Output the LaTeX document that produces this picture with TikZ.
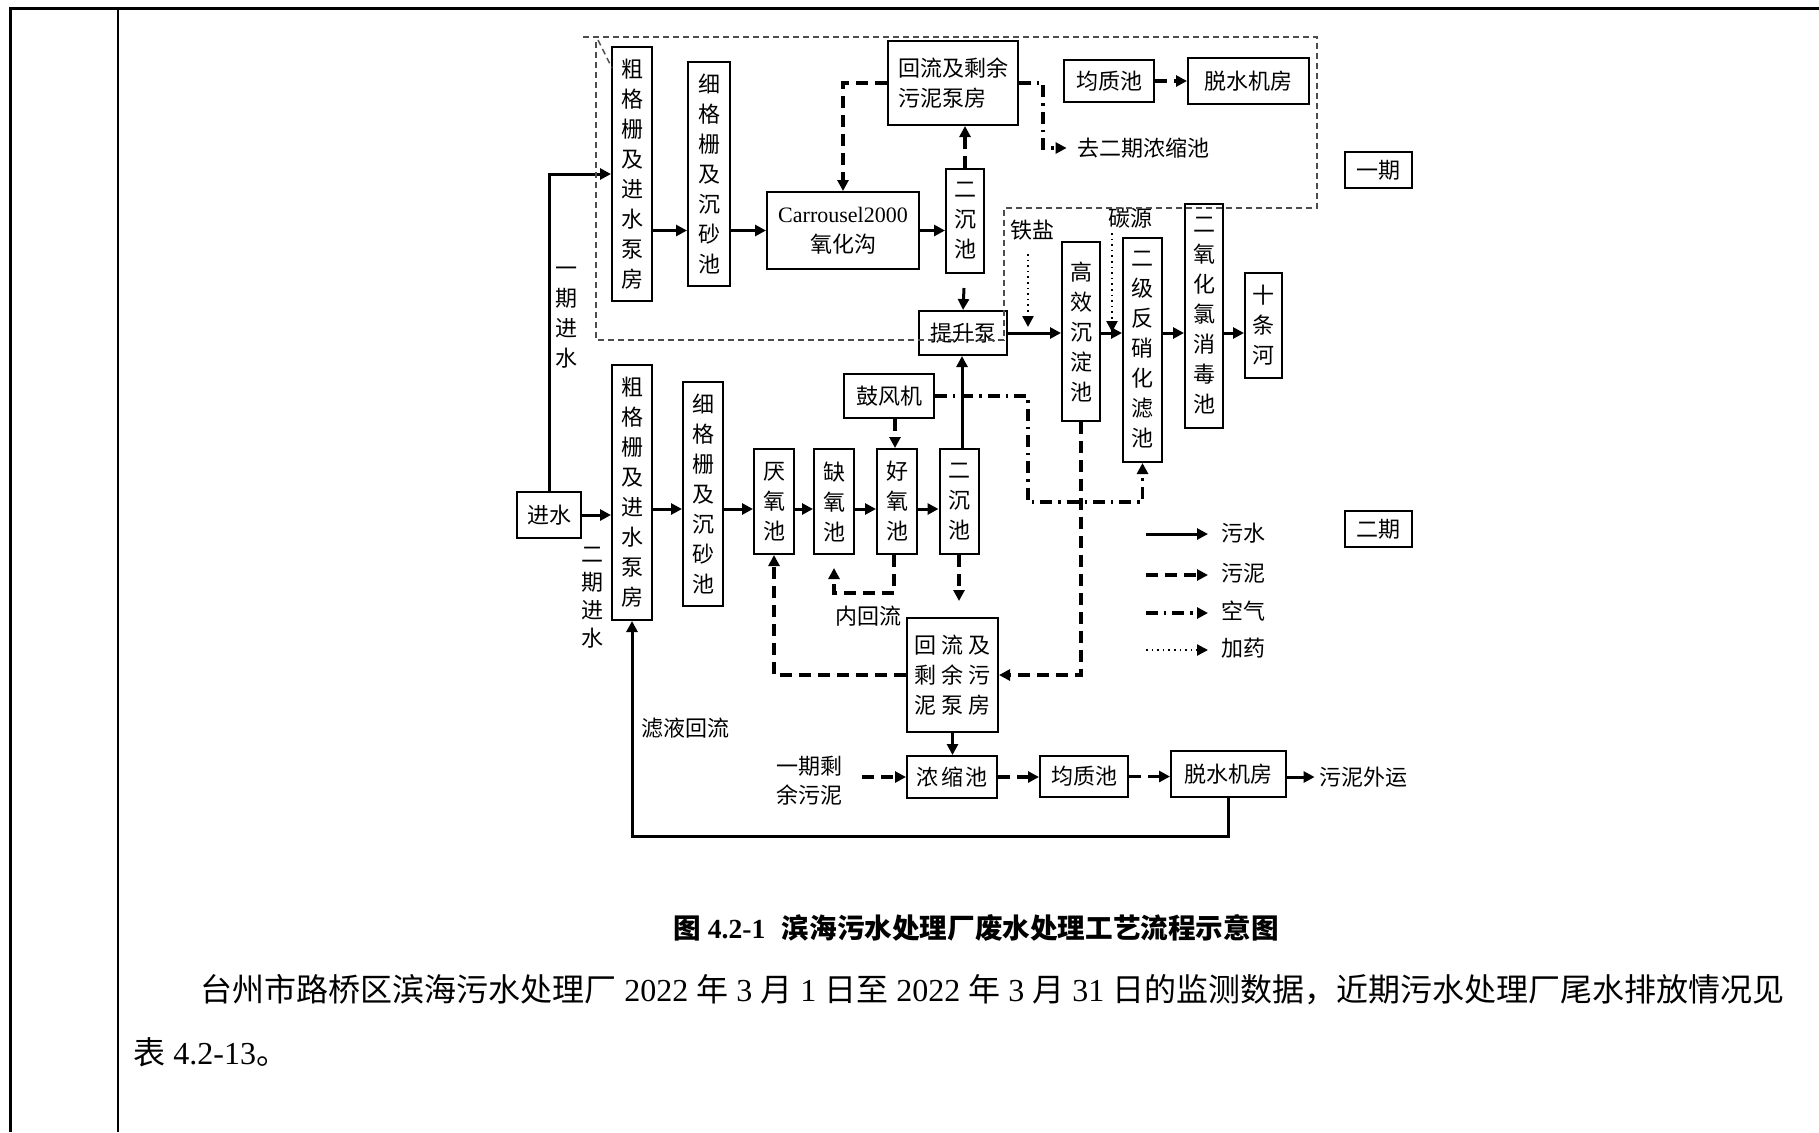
\documentclass[tikz,border=0pt]{standalone}
\usepackage{fontspec}
\setmainfont{Liberation Serif}
\newfontfamily\cjk{Noto Sans CJK SC}
\usetikzlibrary{arrows.meta,calc}
\begin{document}
\begin{tikzpicture}[x=0.5pt,y=-0.5pt,
  box/.style={draw,line width=1pt,inner sep=0pt,font=\cjk\fontsize{11}{15}\selectfont,align=center},
  sz/.style 2 args={minimum width=#1*0.5pt,minimum height=#2*0.5pt},
  lbl/.style={inner sep=0pt,font=\cjk\fontsize{11}{15}\selectfont,align=center},
  tip/.style={-{Triangle[length=5.5pt,width=5.5pt]}},
  water/.style={line width=1.5pt,tip},
  sludge/.style={line width=1.6pt,dash pattern=on 6pt off 3.5pt,tip},
  air/.style={line width=1.6pt,dash pattern=on 6pt off 3pt on 1.2pt off 3pt,tip},
  dose/.style={line width=1.2pt,dash pattern=on 0.8pt off 2pt,tip},
  outl/.style={line width=0.7pt,black!70,dash pattern=on 3pt off 2pt},
  rule/.style={line width=1.2pt},
]
\useasboundingbox (0,0) rectangle (1819,1132);
% table rules
\draw[rule] (1819,8.5) -- (10.5,8.5) -- (10.5,1132);
\draw[rule] (118,8.5) -- (118,1132);

% phase 1 nodes
\node[box,sz={40}{254}] (c1) at (632,174) {粗\\格\\栅\\及\\进\\水\\泵\\房};
\node[box,sz={42}{224}] (f1) at (709,174) {细\\格\\栅\\及\\沉\\砂\\池};
\node[box,sz={152}{77}] (car) at (843,230.5) {{\rmfamily Carrousel2000}\\氧化沟};
\node[box,sz={38}{104}] (s1) at (965,221) {二\\沉\\池};
\node[box,sz={130}{84},align=left] (r1) at (953,83) {回流及剩余\\污泥泵房};
\node[box,sz={90}{42}] (j1) at (1109,81) {均质池};
\node[box,sz={121}{46}] (t1) at (1248.5,81) {脱水机房};
\node[box,sz={67}{36}] (p1) at (1378.5,170) {一期};
\node[lbl] (qe) at (1143,148) {去二期浓缩池};

% phase 2 nodes
\node[box,sz={64}{46}] (inw) at (549,515) {进水};
\node[box,sz={40}{255}] (c2) at (632,492.5) {粗\\格\\栅\\及\\进\\水\\泵\\房};
\node[box,sz={40}{224}] (f2) at (703,494) {细\\格\\栅\\及\\沉\\砂\\池};
\node[box,sz={40}{105}] (a2) at (774,501.5) {厌\\氧\\池};
\node[box,sz={40}{105}] (q2) at (834,501.5) {缺\\氧\\池};
\node[box,sz={40}{105}] (h2) at (897,501.5) {好\\氧\\池};
\node[box,sz={39}{105}] (s2) at (959,501.5) {二\\沉\\池};
\node[box,sz={90}{44}] (bl) at (889,396) {鼓风机};
\node[box,sz={88}{44}] (lift) at (963,333) {提升泵};
\node[box,sz={38}{179}] (gx) at (1081,331.5) {高\\效\\沉\\淀\\池};
\node[box,sz={39}{224}] (ej) at (1142.5,350) {二\\级\\反\\硝\\化\\滤\\池};
\node[box,sz={38}{224}] (cl) at (1204,316) {二\\氧\\化\\氯\\消\\毒\\池};
\node[box,sz={37}{105}] (rv) at (1263.5,325.5) {十\\条\\河};
\node[box,sz={91}{114}] (r2) at (952.5,675) {回\hspace{2.5pt}流\hspace{2.5pt}及\\剩\hspace{2.5pt}余\hspace{2.5pt}污\\泥\hspace{2.5pt}泵\hspace{2.5pt}房};
\node[box,sz={90}{42}] (n2) at (952,777) {浓\hspace{1.5pt}缩\hspace{1.5pt}池};
\node[box,sz={88}{41}] (j2) at (1084,776.5) {均质池};
\node[box,sz={115}{46}] (t2) at (1228.5,774) {脱水机房};
\node[box,sz={67}{36}] (p2) at (1378.5,529) {二期};

% labels
\node[lbl] (l1) at (566,318) {一\\期\\进\\水};
\node[lbl,font=\cjk\fontsize{11}{14}\selectfont] (l2) at (592,598) {二\\期\\进\\水};
\node[lbl] (ts) at (1032,230) {铁盐};
\node[lbl] (ty) at (1130,218) {碳源};
\node[lbl] (nh) at (868,616) {内回流};
\node[lbl] (ly) at (685,728) {滤液回流};
\node[lbl,font=\cjk\fontsize{11}{14.5}\selectfont] (ys) at (809,781) {一期剩\\余污泥};
\node[lbl] (wy) at (1363,777) {污泥外运};

% water connectors
\draw[water] (inw.north) |- (c1.west);
\draw[water] (inw.east) -- (inw.east -| c2.west);
\draw[water] (c1.east |- car.west) -- (f1.west |- car.west);
\draw[water] (f1.east |- car.west) -- (car.west);
\draw[water] (car.east) -- (car.east -| s1.west);
\draw[water] ($(s1.south)+(-1,14)$) -- (lift.north);
\draw[water] (lift.east) -- (lift.east -| gx.west);
\draw[water] (gx.east |- lift.east) -- (ej.west |- lift.east);
\draw[water] (ej.east |- lift.east) -- (cl.west |- lift.east);
\draw[water] (cl.east |- lift.east) -- (rv.west |- lift.east);
\coordinate (m2) at (0,509);
\draw[water] (c2.east |- m2) -- (f2.west |- m2);
\draw[water] (f2.east |- m2) -- (a2.west |- m2);
\draw[water] (a2.east |- m2) -- (q2.west |- m2);
\draw[water] (q2.east |- m2) -- (h2.west |- m2);
\draw[water] (h2.east |- m2) -- (s2.west |- m2);
\draw[water] ($(s2.north)+(3,0)$) -- ($(s2.north |- lift.south)+(3,0)$);
\draw[water] (r2.south) -- (r2.south |- n2.north);
\draw[water,shorten >=2pt] (t2.east |- wy.west) -- (wy.west);
\coordinate (fb) at (631,836);
\draw[water] (t2.south) |- (c2.south |- fb) -- (c2.south);

% sludge connectors
\draw[sludge] (r1.west) -| (car.north);
\draw[sludge] (s1.north) -- (s1.north |- r1.south);
\draw[sludge] (j1.east) -- (t1.west);
\coordinate (k1) at (1043,148);
\draw[air] (r1.east) -| (k1) -- ($(qe.west)+(-10,0)$);
\coordinate (nhA) at (834,593);
\coordinate (nhB) at (834,568);
\draw[sludge] ($(h2.south)+(-3,0)$) |- (nhA) -- (nhB);
\draw[sludge] (s2.south) -- ($(s2.south |- r2.north)+(0,-16)$);
\draw[sludge] (gx.south) |- (r2.east);
\draw[sludge] (r2.west) -| (a2.south);
\draw[sludge] ($(bl.south -| h2.north)+(-2,0)$) -- ($(h2.north)+(-2,0)$);
\draw[sludge] (n2.east) -- (n2.east -| j2.west);
\draw[sludge] (j2.east) -- (j2.east -| t2.west);
\coordinate (ysA) at (862,777);
\draw[sludge] (ysA) -- (ysA -| n2.west);

% air connector
\coordinate (aA) at (1028,396);
\coordinate (aB) at (1028,502);
\draw[air] (bl.east) -- (aA) -- (aB) -| (ej.south);

% dosing
\coordinate (dA) at (1028,254);
\coordinate (dB) at (1028,327);
\draw[dose] (dA) -- (dB);
\coordinate (dC) at (1112,233);
\coordinate (dD) at (1112,332);
\draw[dose] (dC) -- (dD);

% phase-1 outline
\draw[outl] (583,37) -- (1317,37) -- (1317,208) -- (1004,208) -- (1004,340) -- (596,340) -- (596,37);
\draw[outl] (598,40) -- (612,68);

% legend
\coordinate (g1a) at (1146,534); \coordinate (g1b) at (1208,534);
\coordinate (g2a) at (1146,575); \coordinate (g2b) at (1208,575);
\coordinate (g3a) at (1146,613); \coordinate (g3b) at (1208,613);
\coordinate (g4a) at (1146,650); \coordinate (g4b) at (1208,650);
\draw[water] (g1a) -- (g1b);
\draw[sludge] (g2a) -- (g2b);
\draw[air] (g3a) -- (g3b);
\draw[dose] (g4a) -- (g4b);
\node[lbl] (lg1) at (1243,533) {污水};
\node[lbl] (lg2) at (1243,573) {污泥};
\node[lbl] (lg3) at (1243,611) {空气};
\node[lbl] (lg4) at (1243,648) {加药};

% caption and body text
\node[inner sep=0pt,font=\bfseries\fontsize{13.8}{16}\selectfont] (cap) at (976,928)
  {{\cjk 图} 4.2-1\hspace{0.6em}{\cjk 滨海污水处理厂废水处理工艺流程示意图}};
\node[anchor=west,inner sep=0pt,font=\fontsize{16}{18}\selectfont] (b1) at (200,990)
  {{\cjk 台州市路桥区滨海污水处理厂} 2022 {\cjk 年} 3 {\cjk 月} 1 {\cjk 日至} 2022 {\cjk 年} 3 {\cjk 月} 31 {\cjk 日的监测数据，近期污水处理厂尾水排放情况见}};
\node[anchor=west,inner sep=0pt,font=\fontsize{16}{18}\selectfont] (b2) at (133,1052)
  {{\cjk 表} 4.2-13{\cjk 。}};
\end{tikzpicture}
\end{document}
